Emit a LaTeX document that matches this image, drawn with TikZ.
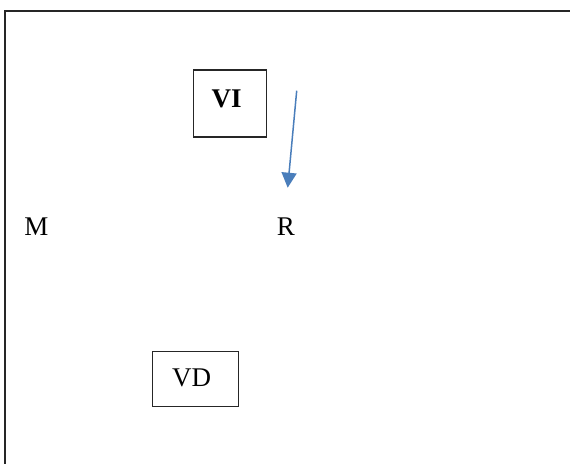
\documentclass[tikz,border=0pt]{standalone}
\usepackage{fontspec}
\setmainfont{Liberation Serif}
\usetikzlibrary{arrows.meta}
\definecolor{arrowblue}{HTML}{4A7EBB}
\tikzset{
  frame/.style={draw=black!85, line width=1pt},
  boxshape/.style={draw=black!85, line width=0.55pt, rectangle, inner sep=0pt},
  lbl/.style={anchor=base, inner sep=0pt, font=\fontsize{13.5}{16}\selectfont},
  arr/.style={draw=arrowblue, line width=0.75pt, -{Triangle[length=7.5pt,width=7.5pt]}}
}
\begin{document}
\begin{tikzpicture}[x=0.5pt,y=-0.5pt]
  \clip (0,0) rectangle (570,463);
  \fill[white] (0,0) rectangle (570,463);
  \draw[frame] (5.5,11) rectangle (620,520);
  % boxes
  \node[boxshape, minimum width=36.75pt, minimum height=33.5pt] (viBox) at (230,103.5) {};
  \node[boxshape, minimum width=42.8pt, minimum height=27.2pt] (vdBox) at (195.5,379) {};
  % labels
  \node[lbl, font=\fontsize{13.5}{16}\selectfont\bfseries] (vi) at (226.7,107.7) {VI};
  \node[lbl] (vd) at (191.7,386.7) {VD};
  \node[lbl] (m) at (36.5,235) {M};
  \node[lbl] (r) at (286,235) {R};
  % arrow
  \coordinate (aStart) at (296.7,90.7);
  \coordinate (aEnd) at (287.7,187.7);
  \draw[arr] (aStart) -- (aEnd);
\end{tikzpicture}
\end{document}
